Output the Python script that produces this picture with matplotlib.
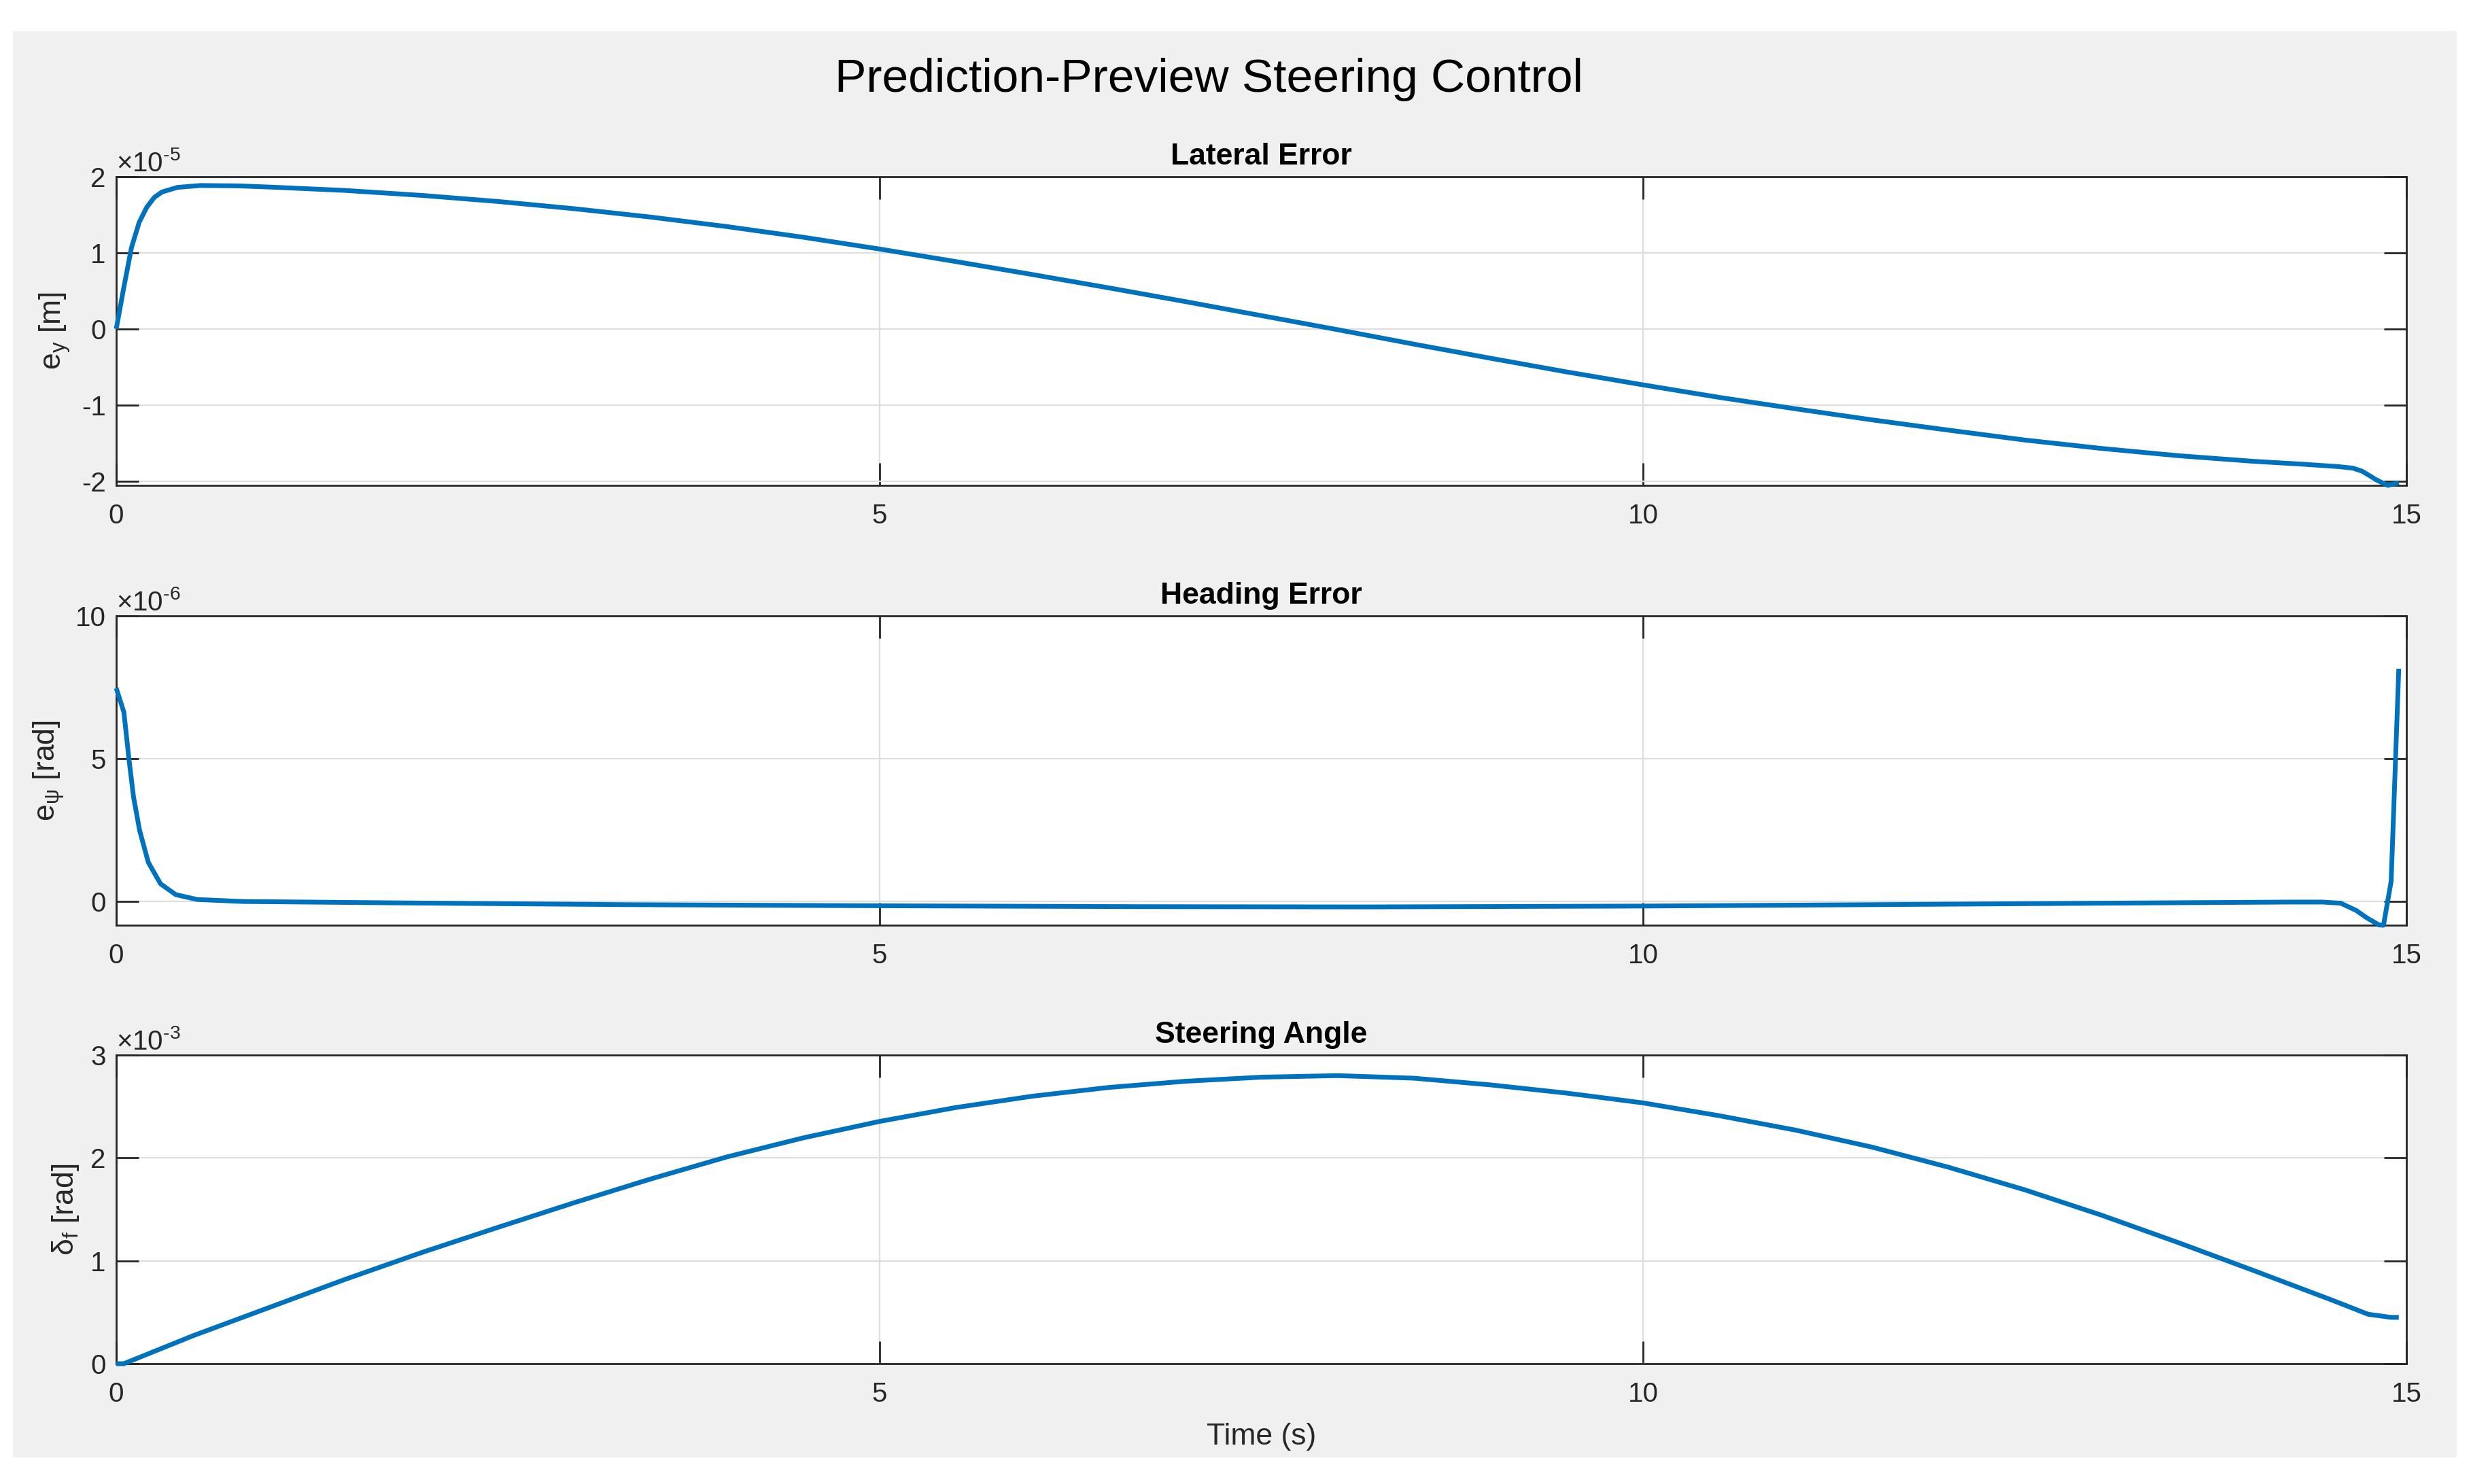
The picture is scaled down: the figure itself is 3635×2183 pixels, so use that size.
import numpy as np
import matplotlib
matplotlib.use('Agg')
import matplotlib.pyplot as plt
from matplotlib.patches import Rectangle
from matplotlib.ticker import ScalarFormatter

# ---------------- data ----------------
t_lat = [0, 0.05, 0.10, 0.15, 0.20, 0.25, 0.30, 0.40, 0.55, 0.80, 1.0, 1.5,
         2.0, 2.5, 3.0, 3.5, 4.0, 4.5, 5.0, 5.5, 6.0, 6.5, 7.0, 7.5, 8.0, 8.5,
         9.0, 9.5, 10.0, 10.5, 11.0, 11.5, 12.0, 12.5, 13.0, 13.5, 14.0, 14.3,
         14.56, 14.65, 14.71, 14.76, 14.80, 14.85, 14.88, 14.95]
ey_e5 = [0, 0.55, 1.07, 1.40, 1.60, 1.73, 1.80, 1.86, 1.885, 1.88, 1.865, 1.82,
         1.755, 1.675, 1.58, 1.47, 1.345, 1.205, 1.05, 0.885, 0.715, 0.54, 0.36,
         0.175, -0.01, -0.20, -0.385, -0.565, -0.735, -0.90, -1.05, -1.195,
         -1.33, -1.46, -1.57, -1.665, -1.74, -1.775, -1.81, -1.83, -1.87, -1.93,
         -1.98, -2.03, -2.056, -2.02]

t_head = [0, 0.05, 0.083, 0.113, 0.153, 0.21, 0.29, 0.39, 0.53, 0.83, 1.88,
          3.33, 5.0, 6.7, 8.16, 10.0, 11.53, 12.98, 14.23, 14.45, 14.57, 14.67,
          14.74, 14.82, 14.85, 14.90, 14.95]
epsi_e6 = [7.47, 6.63, 5.0, 3.67, 2.49, 1.37, 0.62, 0.24, 0.07, 0.0, -0.05,
           -0.11, -0.15, -0.18, -0.19, -0.16, -0.11, -0.06, -0.02, -0.02, -0.06,
           -0.31, -0.57, -0.82, -0.83, 0.71, 8.15]

t_steer = [0, 0.05, 0.5, 1.0, 1.5, 2.0, 2.5, 3.0, 3.5, 4.0, 4.5, 5.0, 5.5, 6.0,
           6.5, 7.0, 7.5, 8.0, 8.5, 9.0, 9.5, 10.0, 10.5, 11.0, 11.5, 12.0, 12.5,
           13.0, 13.5, 14.0, 14.5, 14.75, 14.90, 14.95]
delta_e3 = [0, 0, 0.27, 0.545, 0.82, 1.08, 1.325, 1.565, 1.795, 2.01, 2.195,
            2.355, 2.49, 2.60, 2.685, 2.745, 2.785, 2.80, 2.775, 2.71, 2.63,
            2.535, 2.41, 2.27, 2.105, 1.91, 1.69, 1.445, 1.18, 0.905, 0.625,
            0.48, 0.45, 0.45]

x_ticks = [0, 5, 10, 15]
lat_ticks = [-2, -1, 0, 1, 2]
head_ticks = [0, 5, 10]
steer_ticks = [0, 1, 2, 3]

main_title = 'Prediction-Preview Steering Control'
sub_titles = ['Lateral Error', 'Heading Error', 'Steering Angle']
y_labels = [r'$\mathregular{e_y}$ [m]', r'$\mathregular{e_\psi}$ [rad]',
            r'$\mathregular{\delta_f}$ [rad]']
x_label = 'Time (s)'

# ---------------- style ----------------
plt.rcParams['font.family'] = ['Liberation Sans', 'DejaVu Sans']
plt.rcParams['axes.unicode_minus'] = False
plt.rcParams['mathtext.fontset'] = 'custom'
plt.rcParams['mathtext.rm'] = 'Liberation Sans'
plt.rcParams['mathtext.it'] = 'Liberation Sans:italic'
plt.rcParams['mathtext.bf'] = 'Liberation Sans:bold'
plt.rcParams['mathtext.sf'] = 'Liberation Sans'

W, H = 3635, 2183
DPI = 200
AXC = '#262626'
LINEC = '#0072BD'


class MatlabFormatter(ScalarFormatter):
    """Scalar formatter whose exponent label uses a plain hyphen, like MATLAB."""
    def get_offset(self):
        if self.orderOfMagnitude == 0:
            return ''
        return r'$\times\mathregular{10^{\text{-}%d}}$' % (-self.orderOfMagnitude)


fig = plt.figure(figsize=(W / DPI, H / DPI), dpi=DPI, facecolor='white')
fig.patches.append(Rectangle((19 / W, 1 - 2144 / H), 3595 / W, 2098 / H,
                             transform=fig.transFigure, facecolor='#F0F0F0',
                             edgecolor='none', zorder=-10))

fig.text(1778 / W, 1 - 135 / H, main_title, ha='center', va='baseline',
         fontsize=25, color='black')

ax_rows = [(260, 714), (906, 1361), (1552, 2006)]
series = [
    (t_lat, np.array(ey_e5) * 1e-5, (-2.056e-5, 2e-5), np.array(lat_ticks) * 1e-5, -5),
    (t_head, np.array(epsi_e6) * 1e-6, (-0.83e-6, 10e-6), np.array(head_ticks) * 1e-6, -6),
    (t_steer, np.array(delta_e3) * 1e-3, (0, 3e-3), np.array(steer_ticks) * 1e-3, -3),
]

axes = []
for i, ((top, bot), (tt, vv, yl, yt, order)) in enumerate(zip(ax_rows, series)):
    ax = fig.add_axes([171 / W, 1 - bot / H, (3540 - 171) / W, (bot - top) / H])
    ax.set_facecolor('white')
    ax.plot(tt, vv, color=LINEC, lw=2.5, clip_on=False, zorder=3,
            solid_joinstyle='round', solid_capstyle='butt')
    ax.set_xlim(0, 15)
    ax.set_ylim(*yl)
    ax.set_xticks(x_ticks)
    ax.set_yticks(yt)
    ax.yaxis.set_major_formatter(MatlabFormatter(useMathText=False))
    ax.ticklabel_format(axis='y', style='sci', scilimits=(order, order))
    ax.yaxis.get_offset_text().set_fontsize(14.5)
    ax.yaxis.get_offset_text().set_color(AXC)
    ax.grid(True, color='#DEDEDE', lw=0.8)
    for sp in ax.spines.values():
        sp.set_color(AXC)
        sp.set_linewidth(1.0)
    ax.tick_params(direction='in', length=12, width=1.0, colors=AXC,
                   top=True, right=True, labelsize=14.5)
    ax.tick_params(axis='x', pad=9.4)
    ax.tick_params(axis='y', pad=5.5)
    ax.set_title(sub_titles[i], fontsize=16, fontweight='bold', pad=6.5,
                 color='black')
    ax.set_ylabel(y_labels[i], fontsize=16, labelpad=5, color=AXC)
    axes.append(ax)

axes[-1].set_xlabel(x_label, fontsize=16, color=AXC)
axes[-1].xaxis.set_label_coords(0.5, (2006 - 2114) / (2006 - 1552))
axes[-1].xaxis.label.set_verticalalignment('center')

fig.savefig('out.png', dpi=DPI, facecolor='white')
